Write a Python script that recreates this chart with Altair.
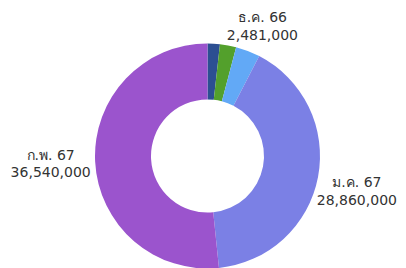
import altair as alt
import pandas as pd

months = ["ต.ค. 66", "พ.ย. 66", "ธ.ค. 66", "ม.ค. 67", "ก.พ. 67"]
values = [1250000, 1650000, 2481000, 28860000, 36540000]
colors = ["#2c4f92", "#53a02c", "#62a9f6", "#7b80e5", "#9b54cd"]
show_label = [False, False, True, True, True]

df = pd.DataFrame({
    "month": months,
    "value": values,
    "idx": list(range(len(months))),
})
df["label"] = [f"{m}\n{v:,}" if s else "" for m, v, s in zip(months, values, show_label)]

CX, CY = 199.5, 148
# small per-label nudges (dx, dy) of the outside labels
label_nudge = {2: (1, 2), 3: (2, -1), 4: (-7, -8)}

base = alt.Chart(df).encode(
    theta=alt.Theta("value:Q", stack=True),
    order=alt.Order("idx:Q"),
)

arcs = base.mark_arc(outerRadius=112.5, innerRadius=56.5).encode(
    color=alt.Color("month:N", scale=alt.Scale(domain=months, range=colors), legend=None),
    x=alt.value(CX),
    y=alt.value(CY),
)

layers = [arcs]
for i, (ndx, ndy) in label_nudge.items():
    t = base.mark_text(
        radius=150, lineBreak="\n", font="DejaVu Sans", fontSize=14,
        color="#333333", lineHeight=17.5, align="center", baseline="middle",
        dx=ndx, dy=ndy,
    ).encode(
        text=alt.condition(alt.datum.idx == i, "label:N", alt.value("")),
        x=alt.value(CX),
        y=alt.value(CY),
    )
    layers.append(t)

chart = alt.layer(*layers).properties(
    width=390, height=260, padding=0, autosize=alt.AutoSizeParams(type="none"),
).configure_view(stroke=None)

chart.save("out.html", embed_options={"renderer": "svg", "actions": False})
